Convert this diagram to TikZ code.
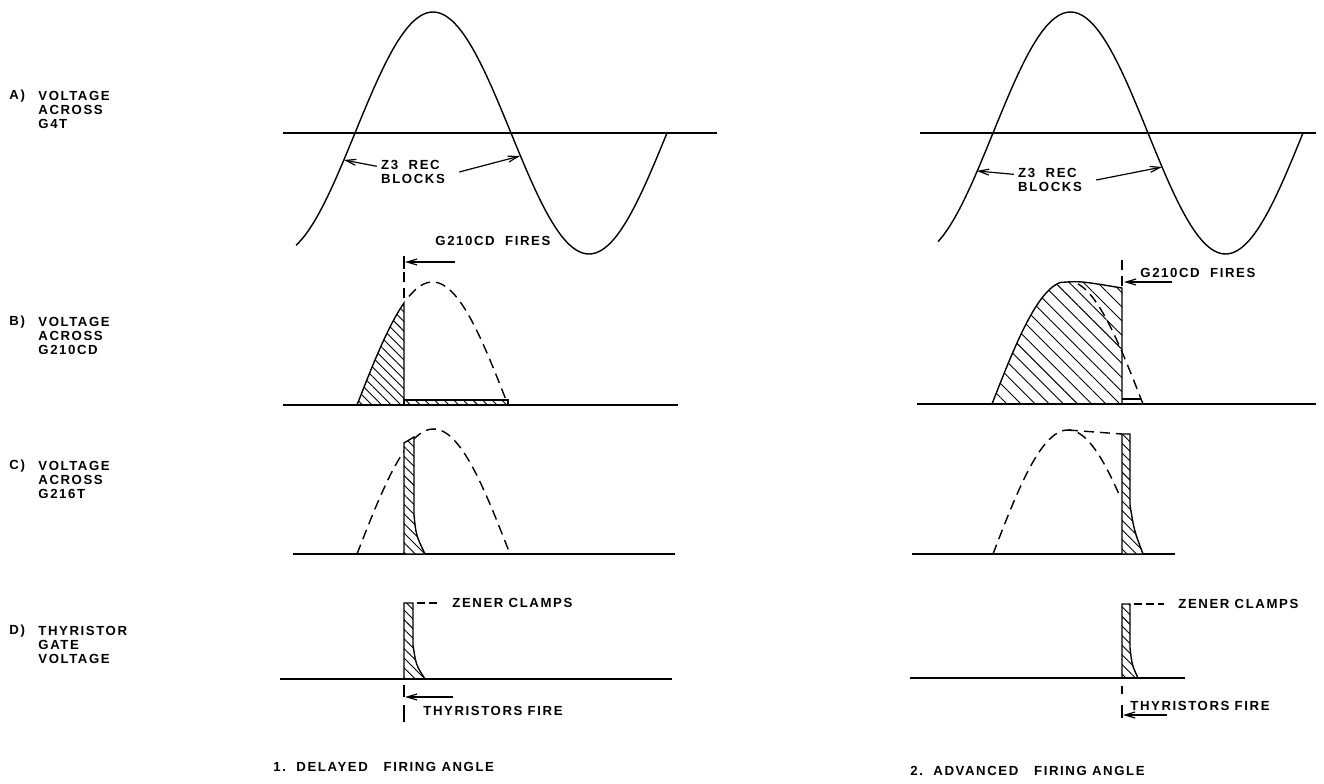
\documentclass[tikz,border=0pt]{standalone}
\usepackage{fontspec}
\newfontfamily\lettering[LetterSpace=12]{Liberation Sans Bold}
\usetikzlibrary{arrows.meta,patterns.meta}

\begin{document}
\begin{tikzpicture}[
  x=0.5pt,
  y=-0.5pt,
  wave/.style={line width=0.7pt},
  ghost/.style={line width=0.7pt,dash pattern=on 5pt off 3pt},
  leader/.style={line width=0.6pt,dash pattern=on 4pt off 2pt},
  hatch/.style={line width=0.7pt,pattern={Lines[angle=-45,distance=3.4pt,line width=0.45pt]}},
  widehatch/.style={line width=0.7pt,pattern={Lines[angle=-45,distance=5pt,line width=0.45pt]}},
  txt/.style={font=\lettering\fontsize{6.6}{7}\selectfont,inner sep=0pt,align=left},
  pointer/.style={-{Straight Barb[length=5pt,width=3pt]},line width=0.6pt}
]
  \useasboundingbox (0,0) rectangle (1324,783);

  % row labels
  \node[txt,anchor=west] (la) at (9,96) {A)};
  \node[txt,anchor=north west] (ta) at (38,91.3) {VOLTAGE\\ACROSS\\G4T};
  \node[txt,anchor=west] (lb) at (9,322) {B)};
  \node[txt,anchor=north west] (tb) at (38,317.3) {VOLTAGE\\ACROSS\\G210CD};
  \node[txt,anchor=west] (lc) at (9,466) {C)};
  \node[txt,anchor=north west] (tc) at (38,461.3) {VOLTAGE\\ACROSS\\G216T};
  \node[txt,anchor=west] (ld) at (9,631) {D)};
  \node[txt,anchor=north west] (td) at (38,626.3) {THYRISTOR\\GATE\\VOLTAGE};

  % 1. delayed firing angle
  \draw[wave] (283,133) -- (717,133);
  \draw[wave] plot[domain=296:667,samples=120,smooth] (\x,{133-121*sin((\x-355)/156*180)});
  \node[txt] (recL) at (413,172) {Z3\ \ REC\\BLOCKS};
  \coordinate (recLa) at (344,160);
  \coordinate (recLb) at (520,156);
  \draw[pointer] ([xshift=-2pt]recL.170) -- (recLa);
  \draw[pointer] ([xshift=7pt]recL.east) -- (recLb);

  \node[txt,anchor=west] (firesL) at (435,241) {G210CD\ \ FIRES};
  \coordinate (fireL) at (405,262);
  \coordinate (fireLt) at (455,262);
  \draw[wave] (404,256) -- (404,269);
  \draw[pointer] (fireLt) -- (fireL);
  \draw[ghost] (404,256) -- (404,300);

  \draw[wave] (283,405) -- (678,405);
  \draw[hatch] (357,405) -- plot[domain=357:404,samples=30] (\x,{405-123*sin((\x-357)/151*180)}) -- (404,405) -- cycle;
  \draw[hatch] (404,400) rectangle (508,405);
  \draw[ghost] plot[domain=409:508,samples=50] (\x,{405-123*sin((\x-357)/151*180)});

  \draw[wave] (293,554) -- (675,554);
  \draw[ghost] plot[domain=357:510,samples=60] (\x,{554-125*sin((\x-357)/153*180)});
  \draw[hatch,preaction={fill=white}] (404,554) -- (404,443) -- (414,437) -- (414,515) .. controls (416,535) .. (425,554) -- cycle;

  \draw[wave] (280,679) -- (672,679);
  \draw[hatch] (404,679) -- (404,603) -- (413,603) -- (413,645) .. controls (416,665) .. (425,679) -- cycle;
  \node[txt,anchor=west] (zenL) at (452,603) {ZENER\ CLAMPS};
  \coordinate (zenLa) at (417,603);
  \draw[leader] (zenLa) -- ([xshift=-6pt]zenL.west);
  \node[txt,anchor=west] (thyL) at (423,711) {THYRISTORS\ FIRE};
  \coordinate (thyLa) at (405,697);
  \coordinate (thyLt) at (453,697);
  \draw[wave] (404,685) -- (404,697);
  \draw[pointer] (thyLt) -- (thyLa);
  \draw[wave] (404,705) -- (404,722);

  \node[txt,anchor=west] (capL) at (273,767) {1.\ \ DELAYED\ \ \ FIRING ANGLE};

  % 2. advanced firing angle
  \draw[wave] (920,133) -- (1316,133);
  \draw[wave] plot[domain=938:1303,samples=120,smooth] (\x,{133-121*sin((\x-993)/155*180)});
  \node[txt] (recR) at (1050,180) {Z3\ \ REC\\BLOCKS};
  \coordinate (recRa) at (977,171);
  \coordinate (recRb) at (1162,167);
  \draw[pointer] ([xshift=-2pt]recR.170) -- (recRa);
  \draw[pointer] ([xshift=7pt]recR.east) -- (recRb);

  \draw[wave] (917,404) -- (1316,404);
  \draw[widehatch] (992,404) -- plot[domain=992:1060,samples=30] (\x,{404-123*sin((\x-992)/151*180)})
    .. controls (1080,281) .. (1122,288) -- (1122,404) -- cycle;
  \draw[ghost] plot[domain=1078:1143,samples=40] (\x,{404-123*sin((\x-992)/151*180)});
  \draw[wave] (1122,399) -- (1141,399);
  \node[txt,anchor=west] (firesR) at (1140,273) {G210CD\ \ FIRES};
  \coordinate (fireR) at (1124,282);
  \coordinate (fireRt) at (1172,282);
  \draw[ghost] (1122,260) -- (1122,288);
  \draw[pointer] (fireRt) -- (fireR);

  \draw[wave] (912,554) -- (1175,554);
  \draw[ghost] plot[domain=993:1120,samples=60] (\x,{554-124*sin((\x-993)/150*180)});
  \draw[ghost] (1068,430) -- (1122,434);
  \draw[hatch,preaction={fill=white}] (1122,554) -- (1122,434) -- (1130,434) -- (1130,505) .. controls (1134,530) .. (1143,554) -- cycle;

  \draw[wave] (910,678) -- (1185,678);
  \draw[hatch] (1122,678) -- (1122,604) -- (1130,604) -- (1130,648) .. controls (1132,665) .. (1138,678) -- cycle;
  \node[txt,anchor=west] (zenR) at (1178,604) {ZENER\ CLAMPS};
  \coordinate (zenRa) at (1134,604);
  \draw[leader] (zenRa) -- ([xshift=-7pt]zenR.west);
  \node[txt,anchor=west] (thyR) at (1130,706) {THYRISTORS\ FIRE};
  \coordinate (thyRa) at (1123,715);
  \coordinate (thyRt) at (1167,715);
  \draw[wave] (1122,686) -- (1122,694);
  \draw[wave] (1122,705) -- (1122,718);
  \draw[pointer] (thyRt) -- (thyRa);

  \node[txt,anchor=west] (capR) at (910,771) {2.\ \ ADVANCED\ \ \ FIRING ANGLE};
\end{tikzpicture}
\end{document}
